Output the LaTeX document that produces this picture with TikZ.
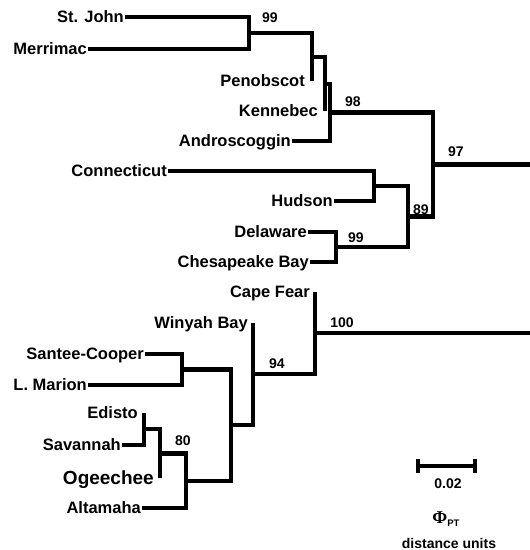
\documentclass[tikz,border=0pt]{standalone}
\usepackage{fontspec}
\setmainfont{Liberation Sans}
\newfontfamily\phifont{Liberation Serif}
\usepackage{tikz}
\tikzstyle{taxon} = [
    font=\fontsize{16.5}{18}\selectfont\bfseries,
    anchor=east,
    inner sep=1pt,
    text height=11.8pt,
    text depth=0pt
]
\tikzstyle{bigtaxon} = [
    taxon,
    font=\fontsize{19}{21}\selectfont\bfseries,
    text height=13.6pt
]
\tikzstyle{support} = [
    font=\fontsize{14}{16}\selectfont\bfseries,
    inner sep=0pt
]
\tikzstyle{scaletext} = [
    font=\fontsize{14}{16}\selectfont\bfseries,
    inner sep=0pt
]
\tikzstyle{branch} = [line width=4.5pt]

\begin{document}
\begin{tikzpicture}[x=1pt, y=-1pt]
\useasboundingbox (0,0) rectangle (530,550);

% junctions of the northern clade
\coordinate (stmer) at (249,33);
\coordinate (penob) at (312,57);
\coordinate (kenne) at (325,84);
\coordinate (andro) at (330,112.5);
\coordinate (conhud) at (374,186);
\coordinate (delche) at (336,247);
\coordinate (mid) at (408,216.5);
\coordinate (north) at (433,164.5);
\coordinate (northroot) at (530,164.5);

% junctions of the southern clade
\coordinate (edsav) at (144,429);
\coordinate (ogee) at (160,453.5);
\coordinate (alta) at (186,480.75);
\coordinate (scmar) at (182,369.5);
\coordinate (low) at (231,425);
\coordinate (winyah) at (253,374);
\coordinate (south) at (315,333);
\coordinate (southroot) at (530,333);

% taxa
\node (stjohn) [taxon] at (125,17) {St. John};
\node (merrimac) [taxon] at (88,49) {Merrimac};
\node (penobscot) [taxon] at (306,81) {Penobscot};
\node (kennebec) [taxon] at (319,111) {Kennebec};
\node (androscoggin) [taxon] at (292,141) {Androscoggin};
\node (connecticut) [taxon] at (168,171) {Connecticut};
\node (hudson) [taxon] at (334,201) {Hudson};
\node (delaware) [taxon] at (308,232) {Delaware};
\node (chesapeake) [taxon] at (310,262) {Chesapeake Bay};
\node (capefear) [taxon] at (311,292) {Cape Fear};
\node (winyahbay) [taxon] at (249,323) {Winyah Bay};
\node (santee) [taxon] at (145,354) {Santee-Cooper};
\node (marion) [taxon] at (88,385) {L. Marion};
\node (edisto) [taxon] at (139,413) {Edisto};
\node (savannah) [taxon] at (122,445) {Savannah};
\node (ogeechee) [bigtaxon] at (155,478) {Ogeechee};
\node (altamaha) [taxon] at (142,508) {Altamaha};

% branches
\draw [branch] (stjohn.east) -| (stmer);
\draw [branch] (merrimac.east) -| (stmer);
\draw [branch] (stmer) -| (penob);
\draw [branch] (penobscot.east -| penob) -- (penob);
\draw [branch] (penob) -| (kenne);
\draw [branch] (kennebec.east -| kenne) -- (kenne);
\draw [branch] (kenne) -| (andro);
\draw [branch] (androscoggin.east) -| (andro);
\draw [branch] (andro) -| (north);
\draw [branch] (connecticut.east) -| (conhud);
\draw [branch] (hudson.east) -| (conhud);
\draw [branch] (delaware.east) -| (delche);
\draw [branch] (chesapeake.east) -| (delche);
\draw [branch] (conhud) -| (mid);
\draw [branch] (delche) -| (mid);
\draw [branch] (mid) -| (north);
\draw [branch] (north) -- (northroot);

\draw [branch] (edisto.east -| edsav) -- (edsav);
\draw [branch] (savannah.east) -| (edsav);
\draw [branch] (edsav) -| (ogee);
\draw [branch] (ogeechee.east -| ogee) -- (ogee);
\draw [branch] (ogee) -| (alta);
\draw [branch] (altamaha.east) -| (alta);
\draw [branch] (santee.east) -| (scmar);
\draw [branch] (marion.east) -| (scmar);
\draw [branch] (scmar) -| (low);
\draw [branch] (alta) -| (low);
\draw [branch] (winyahbay.east -| winyah) -- (winyah);
\draw [branch] (low) -| (winyah);
\draw [branch] (capefear.east -| south) -- (south);
\draw [branch] (winyah) -| (south);
\draw [branch] (south) -- (southroot);

% bootstrap values
\node (b99a) [support] at (270,18) {99};
\node (b98) [support] at (353,102) {98};
\node (b97) [support] at (456,152) {97};
\node (b89) [support] at (421,210) {89};
\node (b99b) [support] at (356,238) {99};
\node (b100) [support] at (342,323) {100};
\node (b94) [support] at (277,364) {94};
\node (b80) [support] at (183,441) {80};

% scale bar
\coordinate (barleft) at (418,466);
\coordinate (barright) at (475,466);
\draw [branch] (barleft) -- (barright);
\draw [line width=3.8pt] ([yshift=-7pt]barleft) -- ([yshift=7pt]barleft);
\draw [line width=3.8pt] ([yshift=-7pt]barright) -- ([yshift=7pt]barright);
\node (barvalue) [scaletext] at (448,484) {0.02};
\node (phipt) [inner sep=0pt] at (446,519)
{{\phifont\fontsize{18}{19}\selectfont\bfseries Φ}\raisebox{-3pt}{\fontsize{9.5}{10}\selectfont\bfseries PT}};
\node (units) [scaletext] at (449,543) {distance units};

\end{tikzpicture}
\end{document}
